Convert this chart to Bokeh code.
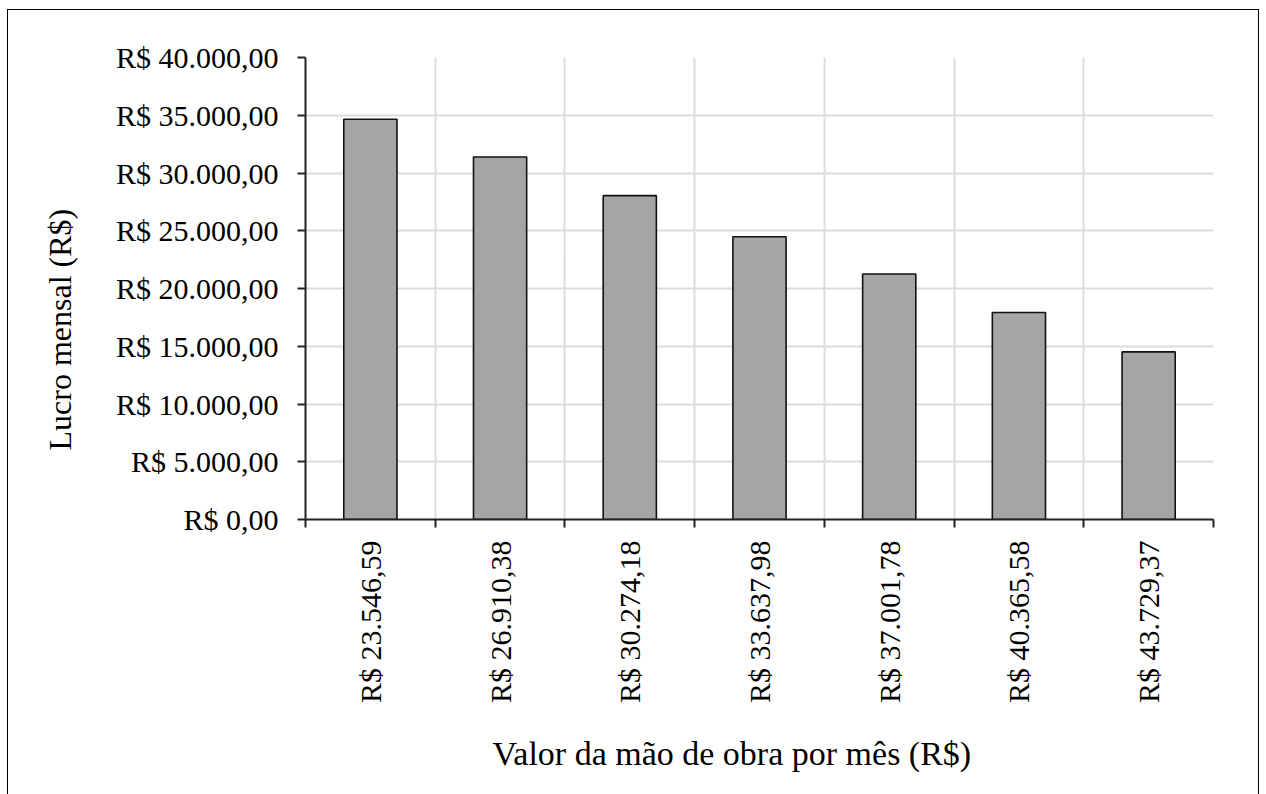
import math
from bokeh.plotting import figure
from bokeh.models import FixedTicker, Range1d, Title, ColumnDataSource
from bokeh.embed import file_html
from bokeh.resources import INLINE

categories = ["R$ 23.546,59", "R$ 26.910,38", "R$ 30.274,18", "R$ 33.637,98",
              "R$ 37.001,78", "R$ 40.365,58", "R$ 43.729,37"]
lucro = [34650, 31390, 28040, 24480, 21250, 17920, 14510]
y_ticks = [0, 5000, 10000, 15000, 20000, 25000, 30000, 35000, 40000]
y_tick_labels = ["R$ 0,00", "R$ 5.000,00", "R$ 10.000,00", "R$ 15.000,00",
                 "R$ 20.000,00", "R$ 25.000,00", "R$ 30.000,00",
                 "R$ 35.000,00", "R$ 40.000,00"]
x_title = "Valor da mão de obra por mês (R$)"
y_title = "Lucro mensal (R$)"

FONT = "'Liberation Serif', 'Times New Roman', serif"
n = len(categories)
centers = [i + 0.5 for i in range(n)]
bounds = list(range(n + 1))

src = ColumnDataSource(dict(x=centers, top=lucro))

p = figure(output_backend="svg", toolbar_location=None,
           frame_width=908, frame_height=462,
           min_border_left=297, min_border_right=45,
           min_border_top=47, min_border_bottom=267,
           x_range=Range1d(0, n), y_range=Range1d(0, 40000),
           background_fill_color="white", border_fill_color="white")
p.styles = {"border-top": "1px solid #000", "border-left": "1px solid #000",
            "border-right": "1px solid #000",
            "margin-left": "7px", "margin-top": "9px"}
p.outline_line_color = None

p.vbar(x="x", top="top", bottom=0, width=0.41, source=src,
       fill_color="#a5a5a5", line_color="#111111", line_width=1.6)

# x axis
xa = p.xaxis[0]
xa.ticker = FixedTicker(ticks=centers, minor_ticks=bounds)
xa.major_label_overrides = {c: lab for c, lab in zip(centers, categories)}
xa.major_label_orientation = math.pi / 2
xa.major_tick_out = 0
xa.major_tick_in = 0
xa.minor_tick_out = 8
xa.minor_tick_in = 0
xa.minor_tick_line_color = "#222222"
xa.minor_tick_line_width = 2
xa.axis_line_color = "#222222"
xa.axis_line_width = 2
xa.major_label_standoff = 13
xa.major_label_text_font = FONT
xa.major_label_text_font_size = "30px"
xa.major_label_text_color = "black"

# y axis
ya = p.yaxis[0]
ya.ticker = FixedTicker(ticks=y_ticks)
ya.major_label_overrides = {t: lab for t, lab in zip(y_ticks, y_tick_labels)}
ya.major_tick_out = 8
ya.major_tick_in = 0
ya.minor_tick_out = 0
ya.minor_tick_in = 0
ya.major_tick_line_color = "#222222"
ya.major_tick_line_width = 2
ya.axis_line_color = "#222222"
ya.axis_line_width = 2
ya.major_label_standoff = 19
ya.major_label_text_font = FONT
ya.major_label_text_font_size = "30px"
ya.major_label_text_color = "black"

# grids
p.xgrid.grid_line_color = None
p.xgrid.minor_grid_line_color = "#dcdcdc"
p.xgrid.minor_grid_line_width = 2
p.ygrid.grid_line_color = "#dcdcdc"
p.ygrid.grid_line_width = 2

# axis titles
p.add_layout(Title(text=x_title, align="left", offset=187, standoff=53,
                   text_font=FONT, text_font_size="34px",
                   text_font_style="normal", text_color="black"), "below")
p.add_layout(Title(text=y_title, align="left", offset=69, standoff=66,
                   vertical_align="top",
                   text_font=FONT, text_font_size="32px",
                   text_font_style="normal", text_color="black"), "left")

open("out.html", "w").write(file_html(p, INLINE))
